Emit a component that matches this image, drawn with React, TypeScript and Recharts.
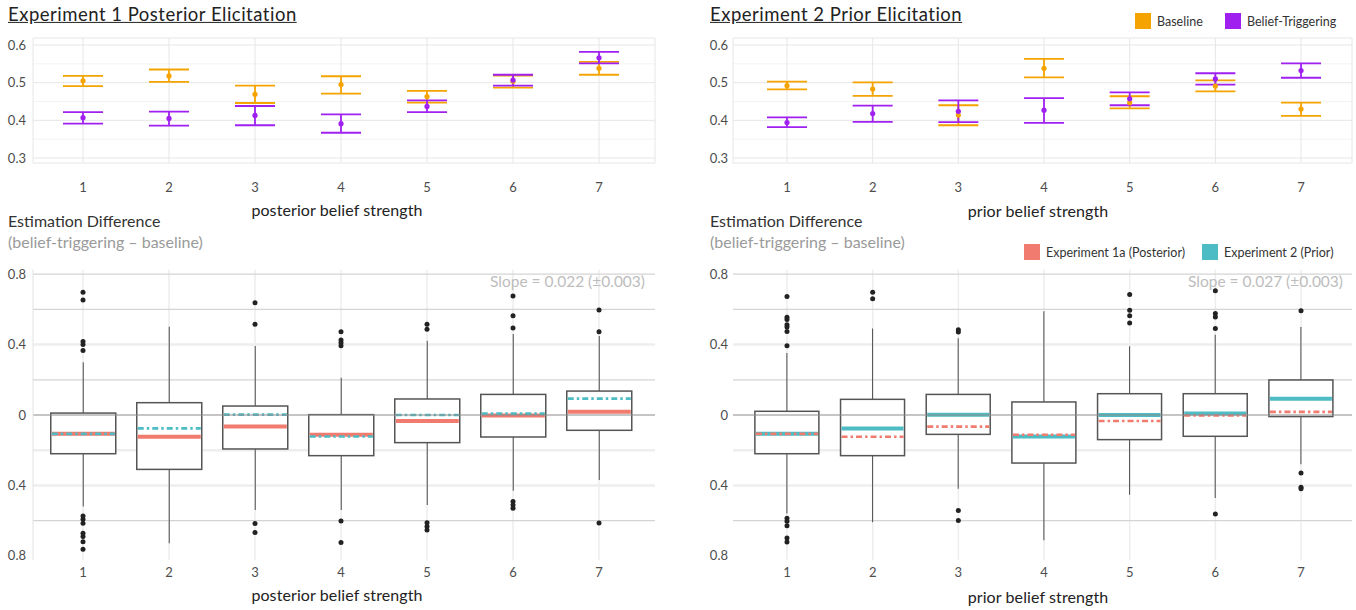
import { Bar, CartesianGrid, ComposedChart, ErrorBar, ReferenceLine, Scatter, XAxis, YAxis } from 'recharts';

const strengths = [1, 2, 3, 4, 5, 6, 7];

// top row: mean estimate and 95% interval per belief strength
const exp1BaselineMean = [0.505, 0.518, 0.469, 0.495, 0.463, 0.504, 0.538];
const exp1BaselineLow = [0.491, 0.502, 0.446, 0.471, 0.447, 0.487, 0.521];
const exp1BaselineHigh = [0.518, 0.535, 0.492, 0.517, 0.478, 0.519, 0.555];
const exp1TriggerMean = [0.407, 0.405, 0.413, 0.391, 0.437, 0.507, 0.566];
const exp1TriggerLow = [0.391, 0.386, 0.387, 0.367, 0.422, 0.492, 0.551];
const exp1TriggerHigh = [0.422, 0.423, 0.438, 0.416, 0.453, 0.521, 0.582];

const exp2BaselineMean = [0.492, 0.483, 0.414, 0.538, 0.447, 0.491, 0.43];
const exp2BaselineLow = [0.482, 0.465, 0.387, 0.514, 0.432, 0.477, 0.412];
const exp2BaselineHigh = [0.503, 0.501, 0.44, 0.563, 0.464, 0.506, 0.447];
const exp2TriggerMean = [0.394, 0.418, 0.424, 0.427, 0.457, 0.51, 0.532];
const exp2TriggerLow = [0.382, 0.396, 0.395, 0.393, 0.44, 0.495, 0.513];
const exp2TriggerHigh = [0.408, 0.439, 0.453, 0.459, 0.474, 0.525, 0.551];

// bottom row: estimation difference (belief-triggering - baseline)
const exp1Median = [-0.107, -0.124, -0.066, -0.112, -0.034, -0.003, 0.018];
const exp2Median = [-0.107, -0.076, 0.002, -0.122, 0, 0.008, 0.093];

const postWhiskerLow = [-0.52, -0.729, -0.54, -0.54, -0.511, -0.43, -0.369];
const postQ1 = [-0.22, -0.309, -0.193, -0.231, -0.157, -0.125, -0.087];
const postQ3 = [0.011, 0.07, 0.051, 0.002, 0.091, 0.117, 0.136];
const postWhiskerHigh = [0.3, 0.502, 0.392, 0.212, 0.422, 0.46, 0.449];
const postOutliers = [
  [0.697, 0.653, 0.417, 0.4, 0.366, -0.574, -0.593, -0.615, -0.672, -0.691, -0.72, -0.763],
  [],
  [0.638, 0.515, -0.616, -0.667],
  [0.473, 0.426, 0.411, 0.394, -0.602, -0.725],
  [0.515, 0.487, -0.612, -0.634, -0.653],
  [0.676, 0.564, 0.494, -0.492, -0.511, -0.53],
  [0.597, 0.473, -0.614],
];

const priorWhiskerLow = [-0.56, -0.61, -0.419, -0.712, -0.453, -0.472, -0.28];
const priorQ1 = [-0.22, -0.231, -0.11, -0.273, -0.14, -0.121, -0.009];
const priorQ3 = [0.021, 0.089, 0.117, 0.074, 0.121, 0.121, 0.199];
const priorWhiskerHigh = [0.352, 0.492, 0.436, 0.589, 0.39, 0.456, 0.5];
const priorOutliers = [
  [0.674, 0.555, 0.542, 0.513, 0.5, 0.475, 0.394, -0.587, -0.604, -0.629, -0.699, -0.722],
  [0.697, 0.661],
  [0.485, 0.472, -0.542, -0.6],
  [],
  [0.684, 0.595, 0.564, 0.523],
  [0.706, 0.576, 0.557, 0.492, -0.563],
  [0.593, -0.33, -0.411, -0.419],
];

const meanTicks = [0.3, 0.4, 0.5, 0.6];
const meanMinorGrid = [0.35, 0.45, 0.55];
const diffTicks = [-0.8, -0.4, 0, 0.4, 0.8];
const diffGridStrong = [0.8, 0.6, 0.2, -0.6];
const diffGridSoft = [0.4, -0.2, -0.4];

const FONT = 'Lato, "Open Sans", sans-serif';
const ORANGE = '#F5A300';
const PURPLE = '#A020F0';
const RED = '#F07B6E';
const TEAL = '#4DBCC4';
const TICK = { fontSize: 13, fill: '#4D4D4D', fontFamily: FONT };

const meanRows = (mean: number[], low: number[], high: number[]) =>
  strengths.map((x, i) => ({ x, y: mean[i], err: [mean[i] - low[i], high[i] - mean[i]] }));

const boxRows = (lo: number[], q1: number[], q3: number[], hi: number[]) =>
  strengths.map((x, i) => ({ x, whisker: [lo[i], hi[i]], q1: q1[i], q3: q3[i], m1: exp1Median[i], m2: exp2Median[i] }));

const outlierRows = (groups: number[][]) => groups.flatMap((vals, i) => vals.map((v) => ({ x: strengths[i], v })));

const dot = (color: string, r: number) => (p: any) => <circle cx={p.cx} cy={p.cy} r={r} fill={color} />;

// whole box drawn from the whisker bar's own scale output
const boxShape = (solidKey: 'm1' | 'm2', dashedKey: 'm1' | 'm2', solidColor: string, dashedColor: string) => (p: any) => {
  const { x, y, width, height, payload } = p;
  const [lo, hi] = payload.whisker;
  const top = Math.min(y, y + height);
  const bottom = Math.max(y, y + height);
  const toY = (v: number) => top + ((hi - v) / (hi - lo)) * (bottom - top);
  const cx = x + width / 2;
  const q3y = toY(payload.q3);
  const q1y = toY(payload.q1);
  return (
    <g>
      <line x1={cx} x2={cx} y1={top} y2={bottom} stroke="#5A5A5A" strokeWidth={1.1} />
      <rect x={x} y={q3y} width={width} height={q1y - q3y} fill="#FFFFFF" stroke="#555555" strokeWidth={1.5} />
      <line x1={x + 1} x2={x + width - 1} y1={toY(payload[solidKey])} y2={toY(payload[solidKey])} stroke={solidColor} strokeWidth={4} />
      <line
        x1={x + 1}
        x2={x + width - 1}
        y1={toY(payload[dashedKey])}
        y2={toY(payload[dashedKey])}
        stroke={dashedColor}
        strokeWidth={2.6}
        strokeDasharray="6 3 2.5 3"
      />
    </g>
  );
};

interface MeanPanelProps {
  left: number;
  width: number;
  yWidth: number;
  rightGap: number;
  xDomain: [number, number];
  labelGap: number;
  baseline: { x: number; y: number; err: number[] }[];
  trigger: { x: number; y: number; err: number[] }[];
}

const MeanPanel = ({ left, width, yWidth, rightGap, xDomain, labelGap, baseline, trigger }: MeanPanelProps) => (
  <div style={{ position: 'absolute', left, top: 0 }}>
    <ComposedChart width={width} height={200} margin={{ top: 38, right: rightGap, bottom: 0, left: 0 }}>
      <CartesianGrid horizontalValues={meanMinorGrid} vertical={false} stroke="#F3F3F3" />
      <CartesianGrid stroke="#E6E6E6" />
      <XAxis type="number" dataKey="x" domain={xDomain} allowDataOverflow ticks={strengths} axisLine={false} tickLine={false} tickSize={0} tickMargin={19.5} height={37} tick={TICK} />
      <YAxis type="number" domain={[0.2867, 0.6186]} allowDataOverflow ticks={meanTicks} axisLine={false} tickLine={false} tickSize={0} tickMargin={labelGap} width={yWidth} tick={TICK} />
      <Scatter data={baseline} dataKey="y" fill={ORANGE} shape={dot(ORANGE, 2.6)} isAnimationActive={false}>
        <ErrorBar dataKey="err" direction="y" width={20} stroke={ORANGE} strokeWidth={1.8} isAnimationActive={false} />
      </Scatter>
      <Scatter data={trigger} dataKey="y" fill={PURPLE} shape={dot(PURPLE, 2.6)} isAnimationActive={false}>
        <ErrorBar dataKey="err" direction="y" width={20} stroke={PURPLE} strokeWidth={1.8} isAnimationActive={false} />
      </Scatter>
    </ComposedChart>
  </div>
);

interface DiffPanelProps {
  left: number;
  width: number;
  yWidth: number;
  rightGap: number;
  xDomain: [number, number];
  labelGap: number;
  rows: ReturnType<typeof boxRows>;
  outliers: { x: number; v: number }[];
  shape: (p: any) => JSX.Element;
  showAxisLine: boolean;
}

const DiffPanel = ({ left, width, yWidth, rightGap, xDomain, labelGap, rows, outliers, shape, showAxisLine }: DiffPanelProps) => (
  <div style={{ position: 'absolute', left, top: 260 }}>
    <ComposedChart width={width} height={330} data={rows} margin={{ top: 9.8, right: rightGap, bottom: 0, left: 0 }} barCategoryGap="12.5%">
      <CartesianGrid horizontal={false} verticalValues={strengths} stroke="#EDEDED" strokeWidth={1.5} />
      <CartesianGrid horizontalValues={diffGridSoft} vertical={false} stroke="#EEEEEE" strokeWidth={2.5} />
      <CartesianGrid horizontalValues={diffGridStrong} vertical={false} stroke="#D4D4D4" strokeWidth={1.2} />
      <XAxis type="number" dataKey="x" domain={xDomain} allowDataOverflow ticks={strengths} axisLine={false} tickLine={false} tickSize={0} tickMargin={7.6} height={29.8} tick={TICK} />
      <YAxis
        type="number"
        domain={[-0.825, 0.825]}
        allowDataOverflow
        ticks={diffTicks}
        axisLine={showAxisLine ? { stroke: '#E2E2E2' } : false}
        tickLine={false}
        tickSize={0}
        tickMargin={labelGap}
        width={yWidth}
        tick={TICK}
        tickFormatter={(v: number) => String(Math.abs(v))}
      />
      <Bar dataKey="whisker" shape={shape} isAnimationActive={false} />
      <Scatter data={outliers} dataKey="v" fill="#222222" shape={dot('#222222', 2.5)} isAnimationActive={false} />
      <ReferenceLine y={0} stroke="#8C8C8C" strokeWidth={1.2} />
    </ComposedChart>
  </div>
);

const Txt = ({ x, y, align = 'left', size, color, children, underline = false, spacing = 0 }: any) => (
  <div
    style={{
      position: 'absolute',
      left: x,
      top: y,
      transform: `translate(${align === 'center' ? '-50%' : align === 'right' ? '-100%' : '0'}, -50%)`,
      fontSize: size,
      color,
      whiteSpace: 'nowrap',
      lineHeight: 1.2,
      letterSpacing: spacing,
      textDecoration: underline ? 'underline' : 'none',
    }}
  >
    {children}
  </div>
);

const LegendKey = ({ x, y, color, label }: { x: number; y: number; color: string; label: string }) => (
  <div style={{ position: 'absolute', left: x, top: y - 8, display: 'flex', alignItems: 'center', fontSize: 12.5, color: '#333' }}>
    <div style={{ width: 16, height: 16, background: color, marginRight: 6 }} />
    <span>{label}</span>
  </div>
);

const App = () => (
  <div style={{ position: 'absolute', left: 0, top: 0, width: 1356, height: 610, background: '#FFFFFF', fontFamily: FONT, overflow: 'hidden' }}>
    <MeanPanel
      left={0}
      width={680}
      yWidth={33}
      rightGap={25}
      xDomain={[0.4186, 7.651]}
      labelGap={7}
      baseline={meanRows(exp1BaselineMean, exp1BaselineLow, exp1BaselineHigh)}
      trigger={meanRows(exp1TriggerMean, exp1TriggerLow, exp1TriggerHigh)}
    />
    <MeanPanel
      left={680}
      width={676}
      yWidth={53}
      rightGap={4}
      xDomain={[0.3697, 7.595]}
      labelGap={5}
      baseline={meanRows(exp2BaselineMean, exp2BaselineLow, exp2BaselineHigh)}
      trigger={meanRows(exp2TriggerMean, exp2TriggerLow, exp2TriggerHigh)}
    />
    <DiffPanel
      left={0}
      width={680}
      yWidth={33}
      rightGap={25}
      xDomain={[0.4186, 7.651]}
      labelGap={7}
      rows={boxRows(postWhiskerLow, postQ1, postQ3, postWhiskerHigh)}
      outliers={outlierRows(postOutliers)}
      shape={boxShape('m1', 'm2', RED, TEAL)}
      showAxisLine
    />
    <DiffPanel
      left={680}
      width={676}
      yWidth={53}
      rightGap={4}
      xDomain={[0.3697, 7.595]}
      labelGap={5}
      rows={boxRows(priorWhiskerLow, priorQ1, priorQ3, priorWhiskerHigh)}
      outliers={outlierRows(priorOutliers)}
      shape={boxShape('m2', 'm1', TEAL, RED)}
      showAxisLine={false}
    />

    <Txt x={8} y={14} size={18.5} color="#222" spacing={0.5} underline>Experiment 1 Posterior Elicitation</Txt>
    <Txt x={710} y={14} size={18.5} color="#222" spacing={0.5} underline>Experiment 2 Prior Elicitation</Txt>
    <LegendKey x={1135} y={21} color={ORANGE} label="Baseline" />
    <LegendKey x={1225} y={21} color={PURPLE} label="Belief-Triggering" />

    <Txt x={337} y={210} align="center" size={16} color="#222" spacing={0.1}>posterior belief strength</Txt>
    <Txt x={1038} y={211} align="center" size={16} color="#222" spacing={0.1}>prior belief strength</Txt>

    <Txt x={8} y={221} size={16} color="#333">Estimation Difference</Txt>
    <Txt x={8} y={242} size={16} color="#9A9A9A">(belief-triggering – baseline)</Txt>
    <Txt x={710} y={221} size={16} color="#333">Estimation Difference</Txt>
    <Txt x={710} y={242} size={16} color="#9A9A9A">(belief-triggering – baseline)</Txt>
    <LegendKey x={1024} y={252} color={RED} label="Experiment 1a (Posterior)" />
    <LegendKey x={1202} y={252} color={TEAL} label="Experiment 2 (Prior)" />

    <Txt x={645} y={281} align="right" size={15.5} color="#BDBDBD">Slope = 0.022 (±0.003)</Txt>
    <Txt x={1343} y={281} align="right" size={15.5} color="#BDBDBD">Slope = 0.027 (±0.003)</Txt>

    <Txt x={337} y={595} align="center" size={16} color="#222" spacing={0.1}>posterior belief strength</Txt>
    <Txt x={1038} y={597} align="center" size={16} color="#222" spacing={0.1}>prior belief strength</Txt>
  </div>
);

export default App;
